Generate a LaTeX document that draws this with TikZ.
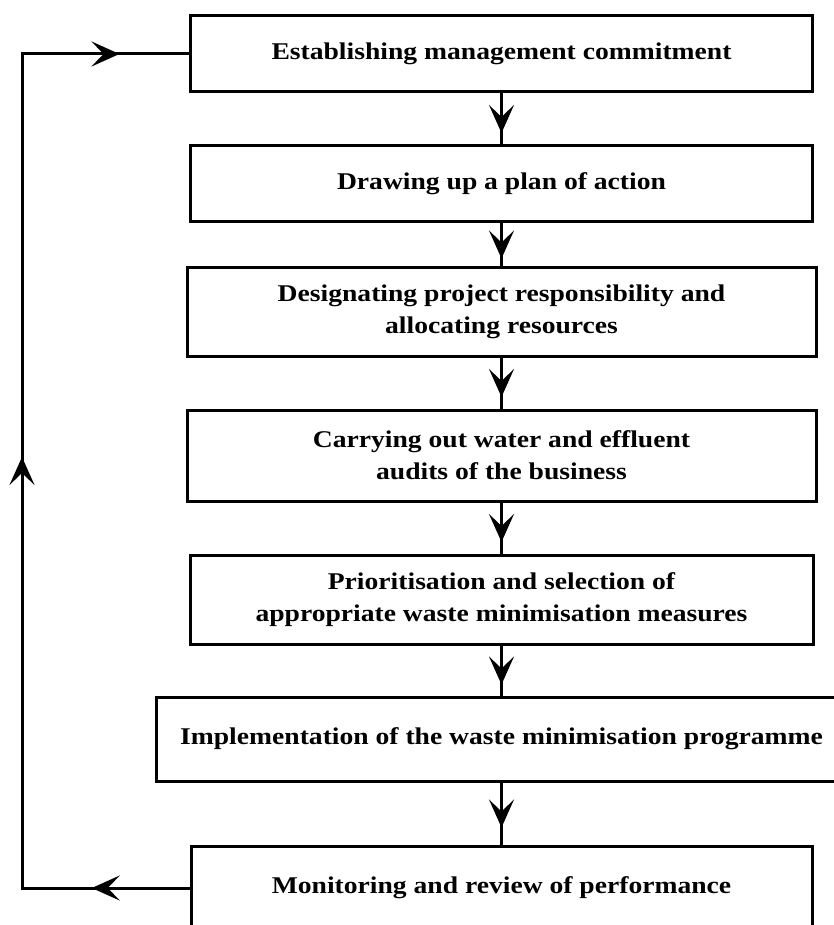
\documentclass[tikz,border=0pt]{standalone}
\usepackage{fontspec}
\setmainfont{Liberation Serif}[FakeStretch=1.15]
\usepackage{tikz}
\usetikzlibrary{arrows.meta,decorations.markings}
\definecolor{boxline}{HTML}{000000}
\tikzstyle{wmbox} = [
    draw=boxline,
    line width=3pt,
    rectangle,
    align=center,
    font=\fontsize{24}{32}\selectfont\bfseries,
    inner sep=0pt
    ]
\tikzstyle{flowline} = [
    draw=boxline,
    line width=3pt,
    postaction={decorate},
    decoration={markings,
        mark=at position 0.5 with {\pgftransformxshift{14pt}\arrow{Stealth[length=28pt,width=25pt,inset=12pt]}}}
    ]

\begin{document}
\begin{tikzpicture}[x=1pt,y=-1pt]
\useasboundingbox (0,0) rectangle (834,925);
\node [wmbox, minimum width=622pt, minimum height=76pt] (commit) at (501.5,54) {Establishing management commitment};
\node [wmbox, minimum width=622pt, minimum height=76pt] (plan) at (501.5,184) {Drawing up a plan of action};
\node [wmbox, minimum width=629pt, minimum height=89pt] (resp) at (501.5,311.5) {Designating project responsibility and\\allocating resources};
\node [wmbox, minimum width=629pt, minimum height=91pt] (audit) at (501.5,455.5) {Carrying out water and effluent\\audits of the business};
\node [wmbox, minimum width=623pt, minimum height=89pt] (select) at (501.5,599.5) {Prioritisation and selection of\\appropriate waste minimisation measures};
\node [wmbox, minimum width=690pt, minimum height=84pt] (implement) at (501.5,739) {Implementation of the waste minimisation programme};
\node [wmbox, minimum width=621pt, minimum height=84pt] (review) at (501.5,888) {Monitoring and review of performance};

% downward flow
\draw [flowline] (commit.south) -- (plan.north);
\draw [flowline] (plan.south) -- (resp.north);
\draw [flowline] (resp.south) -- (audit.north);
\draw [flowline] (audit.south) -- (select.north);
\draw [flowline] (select.south) -- (implement.north);
\draw [flowline] (implement.south) -- (review.north);

% feedback loop
\coordinate (loopbottom) at (22,888);
\coordinate (looptop) at (22,54);
\draw [flowline, line cap=rect] (review.west) -- (loopbottom);
\draw [flowline, line cap=rect] (loopbottom) -- (looptop);
\draw [flowline, line cap=rect] (looptop) -- (commit.west);
\end{tikzpicture}
\end{document}
